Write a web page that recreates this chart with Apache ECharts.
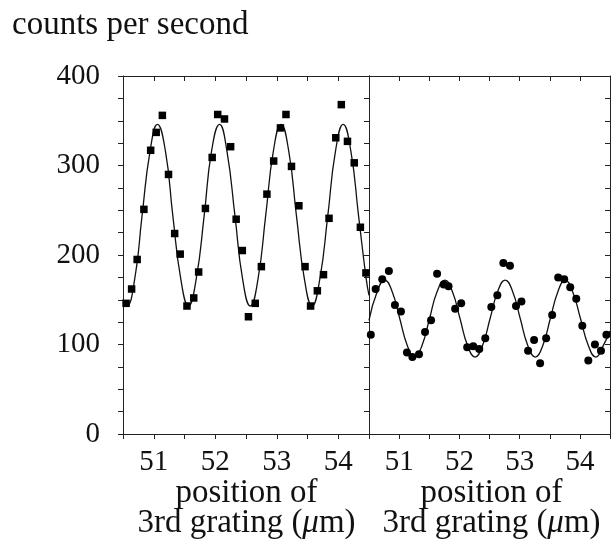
<!DOCTYPE html>
<html>
<head>
<meta charset="utf-8">
<script src="https://cdn.jsdelivr.net/npm/echarts@6/dist/echarts.min.js"></script>
<style>
html,body{margin:0;padding:0;background:#fff;}
#chart{width:613px;height:548px;}
</style>
</head>
<body>
<div id="chart"></div>
<script>
// Left panel: measured counts (squares)
const squareX = [50.55,50.64,50.73,50.84,50.95,51.04,51.14,51.24,51.34,51.43,51.54,51.65,51.73,51.84,51.95,52.04,52.15,52.25,52.34,52.44,52.54,52.65,52.75,52.84,52.95,53.06,53.15,53.24,53.36,53.46,53.55,53.66,53.76,53.85,53.96,54.05,54.15,54.26,54.36,54.45];
const squareY = [146,162,195,251,317,337,356,290,224,201,143,152,181,252,309,357,352,321,240,205,131,146,187,268,305,342,357,299,255,187,143,160,178,241,331,368,327,303,231,180];

// Left panel: fitted curve
const fitLeftX = [50.50,50.56,50.69,50.81,50.94,51.06,51.19,51.31,51.44,51.565,51.69,51.82,51.94,52.07,52.19,52.32,52.445,52.57,52.695,52.82,52.945,53.07,53.195,53.32,53.45,53.575,53.70,53.83,53.955,54.08,54.205,54.33,54.455,54.50];
const fitLeftY = [150,143,173,244,316,346,316,244,173,143,173,244,316,346,316,244,173,143,173,244,316,346,316,244,173,143,173,244,316,346,316,244,173,155];

// Right panel: measured counts (circles)
const circleX = [50.53,50.61,50.72,50.83,50.93,51.03,51.13,51.22,51.33,51.43,51.53,51.63,51.74,51.82,51.93,52.03,52.13,52.23,52.33,52.43,52.53,52.63,52.73,52.84,52.94,53.03,53.14,53.24,53.34,53.44,53.54,53.64,53.74,53.84,53.94,54.04,54.14,54.25,54.35,54.44];
const circleY = [111,162,173,182,144,137,91,86,89,114,127,179,167,165,140,146,97,98,95,107,142,155,191,188,143,148,93,105,79,107,133,175,173,164,151,121,82,100,93,111];

// Right panel: fitted curve
const fitRightX = [50.50,50.635,50.76,50.885,51.01,51.135,51.255,51.38,51.505,51.63,51.76,51.885,52.01,52.135,52.26,52.385,52.51,52.635,52.76,52.885,53.01,53.135,53.26,53.385,53.51,53.635,53.755,53.88,54.01,54.14,54.265,54.39,54.50];
const fitRightY = [127,159,172,159,129,99,86,99,129,159,172,159,129,99,86,99,129,159,172,159,129,99,86,99,129,159,172,159,129,99,86,99,115];

const yTickLabels = [0,100,200,300,400];
const xTickLabels = [51,52,53,54];
const titleText = 'counts per second';
const xNameLine1 = 'position of';
const xNameLine2 = '3rd grating ({i|μ}m)';

const zip = (xs, ys) => xs.map((x, i) => [x, ys[i]]);
const FONT = '"Liberation Serif", "DejaVu Serif", serif';
const AX = '#222';
const TXT = 33;

function xAxisBottom(gi) {
  return {
    type: 'value', gridIndex: gi, position: 'bottom', min: 50.5, max: 54.5, interval: 0.5,
    axisLine: { show: true, onZero: false, lineStyle: { color: AX, width: 1 } },
    axisTick: { show: true, inside: false, length: 5, lineStyle: { color: AX } },
    splitLine: { show: false },
    axisLabel: {
      margin: 14, fontSize: 29, fontFamily: FONT, color: '#111',
      showMinLabel: true, showMaxLabel: true,
      formatter: v => xTickLabels.includes(Math.round(v * 100) / 100) ? String(v) : ''
    }
  };
}
function xAxisTop(gi) {
  return {
    type: 'value', gridIndex: gi, position: 'top', min: 50.5, max: 54.5, interval: 0.5,
    axisLine: { show: true, onZero: false, lineStyle: { color: AX, width: 1 } },
    axisTick: { show: true, inside: true, length: 5, lineStyle: { color: AX } },
    splitLine: { show: false }, axisLabel: { show: false }
  };
}
function yAxisDef(gi, pos, tick, inside, labels) {
  return {
    type: 'value', gridIndex: gi, position: pos, min: 0, max: 400, interval: 25,
    axisLine: { show: true, onZero: false, lineStyle: { color: AX, width: 1 } },
    axisTick: { show: tick, inside: inside, length: 5, lineStyle: { color: AX } },
    splitLine: { show: false },
    axisLabel: labels ? {
      margin: 23, fontSize: 29, fontFamily: FONT, color: '#111',
      formatter: v => yTickLabels.includes(v) ? String(v) : ''
    } : { show: false }
  };
}
function nameText(x, y, text) {
  return { type: 'text', x: x, y: y, style: {
    text: text, font: TXT + 'px ' + FONT, fill: '#111', align: 'center', verticalAlign: 'middle',
    rich: { i: { fontStyle: 'italic', fontSize: TXT, fontFamily: FONT, fill: '#111' } } } };
}

const chart = echarts.init(document.getElementById('chart'), null, { renderer: 'canvas' });
chart.setOption({
  animation: false,
  backgroundColor: '#fff',
  grid: [
    { left: 123, top: 76, width: 246, height: 358 },
    { left: 369, top: 76, width: 245, height: 358 }
  ],
  xAxis: [xAxisBottom(0), xAxisTop(0), xAxisBottom(1), xAxisTop(1)],
  yAxis: [
    yAxisDef(0, 'left', true, false, true),
    yAxisDef(0, 'right', true, true, false),
    yAxisDef(1, 'left', false, false, false),
    yAxisDef(1, 'right', true, true, false)
  ],
  series: [
    { type: 'line', xAxisIndex: 0, yAxisIndex: 0, data: zip(fitLeftX, fitLeftY), smooth: 0.5,
      showSymbol: false, lineStyle: { color: '#111', width: 1.3 }, z: 2 },
    { type: 'scatter', xAxisIndex: 0, yAxisIndex: 0, data: zip(squareX, squareY), symbol: 'rect',
      symbolSize: 7.5, itemStyle: { color: '#000', opacity: 1 }, z: 3 },
    { type: 'line', xAxisIndex: 2, yAxisIndex: 2, data: zip(fitRightX, fitRightY), smooth: 0.5,
      showSymbol: false, lineStyle: { color: '#111', width: 1.3 }, z: 2 },
    { type: 'scatter', xAxisIndex: 2, yAxisIndex: 2, data: zip(circleX, circleY), symbol: 'circle',
      symbolSize: 8, itemStyle: { color: '#000', opacity: 1 }, z: 3 }
  ],
  graphic: [
    { type: 'text', x: 12, y: 25, style: { text: titleText, font: TXT + 'px ' + FONT, fill: '#111', align: 'left', verticalAlign: 'middle' } },
    nameText(246.5, 493, xNameLine1),
    nameText(246.5, 523, xNameLine2),
    nameText(491.5, 493, xNameLine1),
    nameText(491.5, 523, xNameLine2)
  ]
});
</script>
</body>
</html>
